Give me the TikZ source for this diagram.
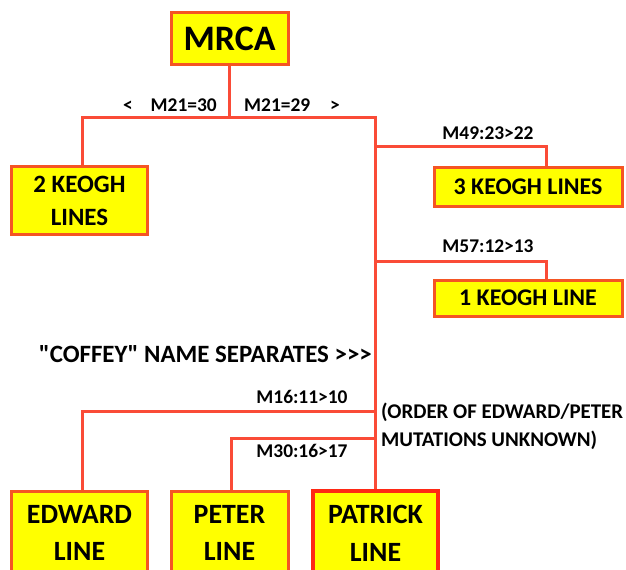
\documentclass[tikz,border=0pt]{standalone}
\usepackage{fontspec}
\setmainfont{Carlito}[Ligatures=TeXOff]
\usetikzlibrary{positioning}
\definecolor{linkred}{RGB}{250,75,55}
\definecolor{edgered}{RGB}{245,85,35}
\definecolor{patrickred}{RGB}{255,40,20}
\definecolor{lineyellow}{RGB}{255,255,0}

\begin{document}
\begin{tikzpicture}[x=1bp, y=-1bp,
    box/.style={draw=edgered, fill=lineyellow, line width=3bp, align=center, inner sep=0pt,
      font=\bfseries\fontsize{25}{33}\selectfont},
    link/.style={linkred, line width=3bp},
    mut/.style={inner sep=0pt, font=\bfseries\fontsize{19.5}{22}\selectfont},
    note/.style={inner sep=0pt, align=left, font=\bfseries\fontsize{21}{28}\selectfont}]
    \useasboundingbox (0,0) rectangle (626,570);
    \clip (0,0) rectangle (626,570);
    \node[box, minimum width=117bp, minimum height=52bp, font=\bfseries\fontsize{36}{40}\selectfont] (mrca) at (229.5,39) {MRCA};
    \node[box, minimum width=135bp, minimum height=67bp] (keogh2) at (79.5,200.5) {2 KEOGH\\LINES};
    \node[box, minimum width=188bp, minimum height=38bp, font=\bfseries\fontsize{24}{30}\selectfont] (keogh3) at (528,187) {3 KEOGH LINES};
    \node[box, minimum width=188bp, minimum height=36bp, font=\bfseries\fontsize{24}{30}\selectfont] (keogh1) at (528,298) {1 KEOGH LINE};
    \node[box, minimum width=135bp, minimum height=84bp, font=\bfseries\fontsize{28}{38}\selectfont] (edward) at (79.5,533) {EDWARD\\LINE};
    \node[box, minimum width=117bp, minimum height=84bp, font=\bfseries\fontsize{28}{38}\selectfont] (peter) at (229.5,533) {PETER\\LINE};
    \node[box, draw=patrickred, line width=4.5bp, minimum width=125bp, minimum height=84bp, font=\bfseries\fontsize{28}{38}\selectfont] (patrick) at (375.5,533) {PATRICK\\LINE};

    \coordinate (split) at (mrca.south |- 0,118);
    \coordinate (trunk) at (patrick.north |- split);
    \coordinate (b3) at (trunk |- 0,147);
    \coordinate (b1) at (trunk |- 0,261);
    \coordinate (be) at (trunk |- 0,411);
    \coordinate (bp) at (trunk |- 0,438);
    \draw[link] (mrca) -- (split);
    \draw[link] ([xshift=3bp]keogh2.north) |- (trunk) -- (patrick.north);
    \draw[link] (b3) -| ([xshift=18bp]keogh3.north);
    \draw[link] (b1) -| ([xshift=18bp]keogh1.north);
    \draw[link] (be) -| ([xshift=3bp]edward.north);
    \draw[link] (bp) -| ([xshift=1.5bp]peter.north);

    \node[mut, anchor=east] (m21a) at (217,105) {<\hspace{18bp}M21=30};
    \node[mut, anchor=west] (m21b) at (244,105) {M21=29\hspace{20bp}>};
    \node[mut] (m49) at (488,133) {M49:23>22};
    \node[mut] (m57) at (488,246) {M57:12>13};
    \node[mut] (m16) at (302,397) {M16:11>10};
    \node[mut] (m30) at (302,451) {M30:16>17};
    \node[note, anchor=east, font=\bfseries\fontsize{25}{28}\selectfont] (coffey) at (372,354) {"COFFEY" NAME SEPARATES >>>};
    \node[note, anchor=north west] (order) at (381,403) {(ORDER OF EDWARD/PETER\\MUTATIONS UNKNOWN)};
\end{tikzpicture}
\end{document}
